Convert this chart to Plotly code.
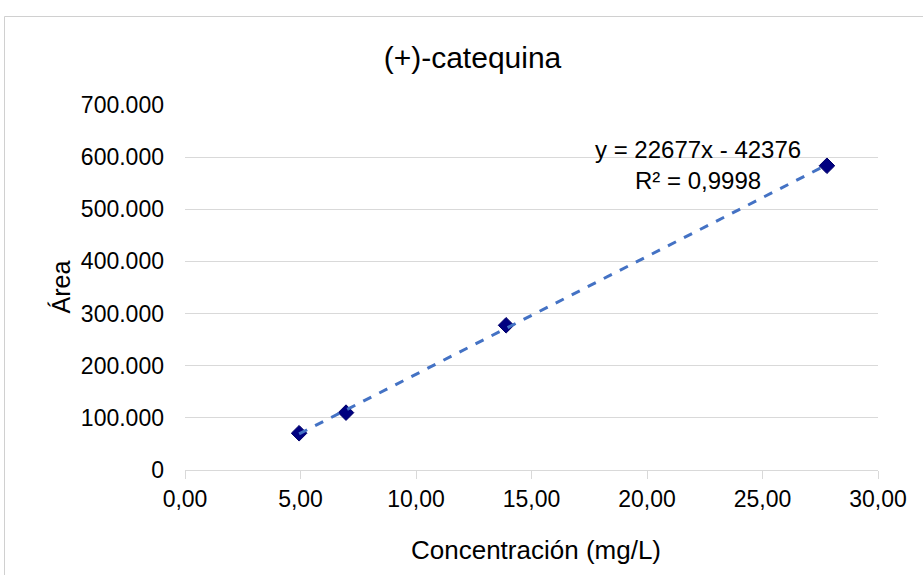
import numpy as np
import plotly.graph_objects as go

# Data
concentracion = [4.94, 6.97, 13.90, 27.79]
area = [70500, 110000, 277500, 583500]
titulo = "(+)-catequina"
x_titulo = "Concentración (mg/L)"
y_titulo = "Área"
ecuacion = "y = 22677x - 42376"
r2_texto = "R² = 0,9998"

FONT = "Liberation Sans, Arial, sans-serif"

# linear trendline from the data
m, b = np.polyfit(concentracion, area, 1)
x_fit = [min(concentracion), max(concentracion)]
y_fit = [m * xv + b for xv in x_fit]

fig = go.Figure()
fig.add_trace(go.Scatter(
    x=concentracion, y=area, mode="markers",
    marker=dict(symbol="diamond", size=12, color="#000080",
                line=dict(color="#00006a", width=1)),
    showlegend=False, hoverinfo="x+y"))
fig.add_trace(go.Scatter(
    x=x_fit, y=y_fit, mode="lines",
    line=dict(color="#4472C4", width=3, dash="dash"),
    showlegend=False, hoverinfo="skip"))

fig.update_layout(
    width=923, height=575,
    margin=dict(l=185, r=45, t=105, b=105),
    paper_bgcolor="white", plot_bgcolor="white",
    separators=",.",
    font=dict(family=FONT, size=23, color="#000000"),
    title=dict(text=titulo, x=472.5 / 923, xanchor="center",
               y=1 - 57 / 575, yanchor="middle", yref="container",
               font=dict(family=FONT, size=30, color="#000000")),
    xaxis=dict(range=[0, 30], dtick=5, tick0=0, tickformat=".2f",
               showgrid=False, zeroline=False,
               showline=True, linecolor="#d9d9d9", linewidth=1,
               ticks="outside", ticklen=8, tickcolor="#d9d9d9",
               tickfont=dict(family=FONT, size=23, color="#000000")),
    yaxis=dict(range=[0, 700000], dtick=100000, tick0=0, tickformat=",.0f",
               showgrid=True, gridcolor="#d9d9d9", gridwidth=1,
               zeroline=False, showline=False, ticks="",
               ticklabelstandoff=20,
               tickfont=dict(family=FONT, size=23, color="#000000")),
    annotations=[
        dict(text=ecuacion + "<br>" + r2_texto, xref="paper", yref="paper",
             x=(698 - 185) / 693, y=(470 - 164.5) / 365,
             xanchor="center", yanchor="middle", showarrow=False,
             align="center",
             font=dict(family=FONT, size=24, color="#000000")),
        dict(text=x_titulo, xref="paper", yref="paper",
             x=(536 - 185) / 693, y=(470 - 550) / 365,
             xanchor="center", yanchor="middle", showarrow=False,
             font=dict(family=FONT, size=26, color="#000000")),
        dict(text=y_titulo, xref="paper", yref="paper",
             x=(60 - 185) / 693, y=0.5, textangle=-90,
             xanchor="center", yanchor="middle", showarrow=False,
             font=dict(family=FONT, size=25, color="#000000")),
    ],
    shapes=[
        dict(type="rect", xref="paper", yref="paper",
             x0=(4.5 - 185) / 693, x1=(930 - 185) / 693,
             y0=(470 - 590) / 365, y1=(470 - 16.5) / 365,
             line=dict(color="#d0d0d0", width=1), layer="below"),
    ],
)

fig.write_html("out.html",
               config={"displayModeBar": False},
               post_script="document.body.style.margin='0';document.body.style.overflow='hidden';")
